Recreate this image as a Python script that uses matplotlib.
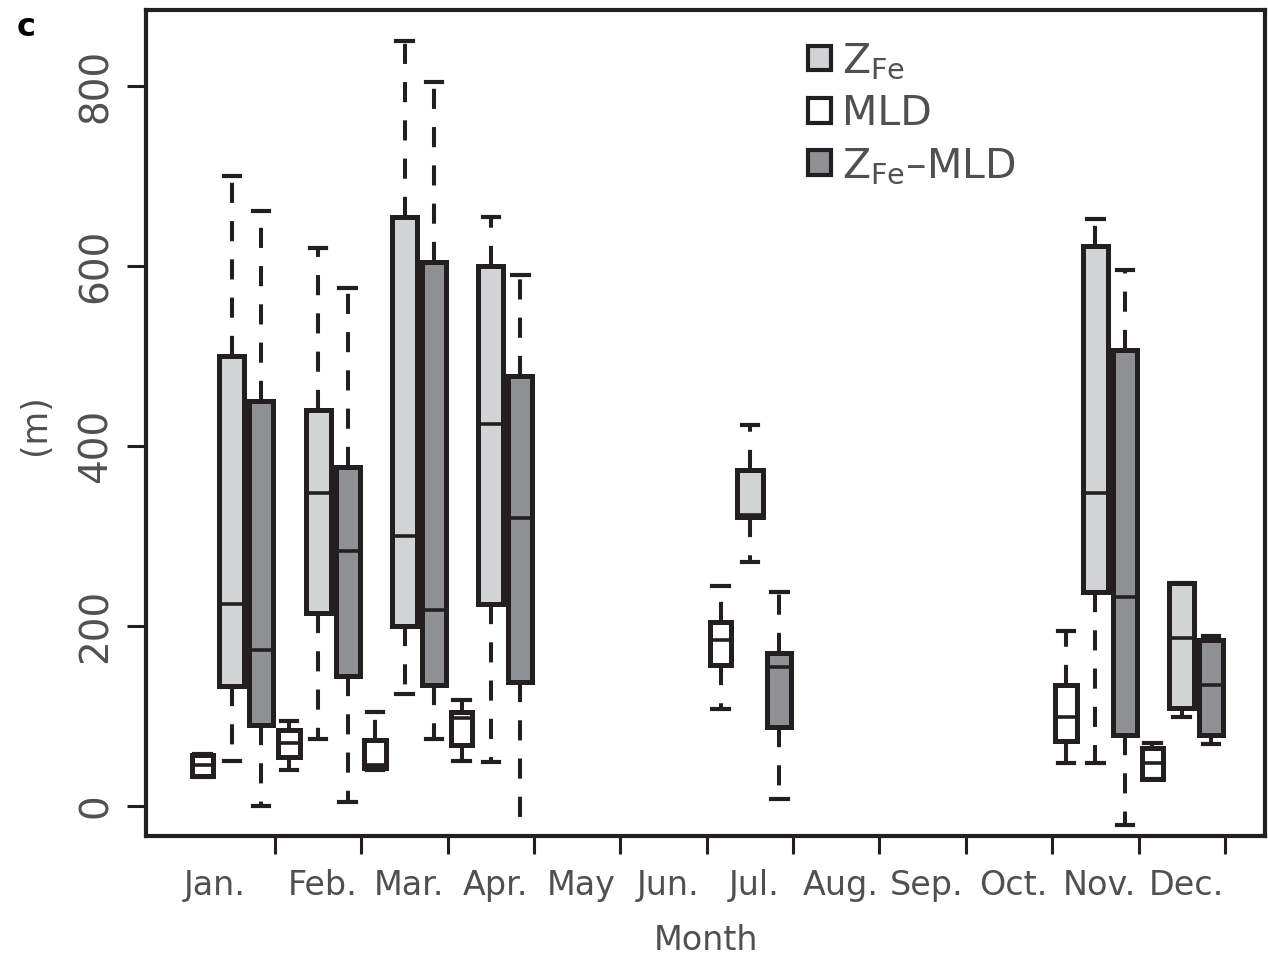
import matplotlib
matplotlib.use("Agg")
import matplotlib.pyplot as plt
import matplotlib.patches as mpatches

_EDGE = "#231F20"
_TEXT = "#505050"
_LIGHT = "#D1D3D4"
_DARK = "#8F9094"

months = ["Jan.", "Feb.", "Mar.", "Apr.", "May", "Jun.", "Jul.",
          "Aug.", "Sep.", "Oct.", "Nov.", "Dec."]
data_months = [0, 1, 2, 3, 6, 10, 11]

# rows: (low whisker, q1, median, q3, high whisker), one per month in data_months
zfe = [
    (50, 133, 225, 500, 700),
    (75, 214, 348, 440, 620),
    (124, 200, 300, 655, 850),
    (49, 224, 425, 600, 655),
    (271, 321, 323, 373, 423),
    (48, 238, 348, 622, 652),
    (99, 109, 187, 248, 248),
]
mld = [
    (32, 33, 46, 57, 58),
    (40, 55, 70, 85, 95),
    (40, 42, 46, 73, 105),
    (50, 68, 98, 105, 118),
    (108, 157, 184, 205, 244),
    (48, 72, 99, 134, 194),
    (30, 30, 48, 65, 70),
]
zfe_minus_mld = [
    (0, 90, 173, 450, 661),
    (5, 145, 283, 377, 576),
    (74, 134, 218, 605, 805),
    (-60, 138, 320, 478, 590),
    (8, 88, 154, 170, 238),
    (-21, 79, 232, 507, 596),
    (69, 79, 134, 184, 189),
]


def _stats(rows):
    return [dict(whislo=r[0], q1=r[1], med=r[2], q3=r[3], whishi=r[4], fliers=[])
            for r in rows]


def _draw(ax, rows, offset, width, color):
    ax.bxp(_stats(rows), positions=[m + offset for m in data_months],
           widths=width, capwidths=0.19, patch_artist=True, showfliers=False,
           boxprops=dict(facecolor=color, edgecolor=_EDGE, linewidth=3.6),
           medianprops=dict(color=_EDGE, linewidth=2.6),
           whiskerprops=dict(color=_EDGE, linewidth=2.9, linestyle=(0, (5, 4.5))),
           capprops=dict(color=_EDGE, linewidth=3.0),
           manage_ticks=False)


fig = plt.figure(figsize=(12.68, 9.56), dpi=100)
ax = fig.add_axes([0.1155, 0.1255, 0.8818, 0.864])

_draw(ax, zfe, 0.0, 0.29, _LIGHT)
_draw(ax, zfe_minus_mld, 0.34, 0.28, _DARK)
_draw(ax, mld, -0.34, 0.25, "white")

ax.set_xlim(-0.99, 11.96)
ax.set_ylim(-33.3, 884.4)

for s in ax.spines.values():
    s.set_linewidth(3)
    s.set_color(_EDGE)

ax.set_yticks([0, 200, 400, 600, 800])
ax.tick_params(axis="y", length=14, width=2.2, color=_EDGE, pad=9,
               labelsize=28, labelcolor=_TEXT, labelrotation=90)
for lab in ax.get_yticklabels():
    lab.set_va("center")

label_pos = [-0.2] + [i + 0.05 for i in range(1, 12)]
ax.set_xticks(label_pos)
ax.set_xticklabels(months)
ax.set_xticks([i + 0.5 for i in range(12)], minor=True)
ax.tick_params(axis="x", which="major", length=0, pad=24, labelsize=24, labelcolor=_TEXT)
ax.tick_params(axis="x", which="minor", length=13, width=2.2, color=_EDGE)

ax.set_xlabel("Month", fontsize=24, color=_TEXT)
ax.xaxis.set_label_coords(0.5, -0.126)
ax.xaxis.label.set_va("center")
fig.text(35 / 1268, 1 - 425 / 956, "(m)", rotation=90, ha="center", va="center",
         fontsize=25, color=_TEXT)
fig.text(26 / 1268, 1 - 27 / 956, "c", ha="center", va="center",
         fontsize=23, fontweight="bold", color="black")

handles = [
    mpatches.Patch(facecolor=_LIGHT, edgecolor=_EDGE, linewidth=3),
    mpatches.Patch(facecolor="white", edgecolor=_EDGE, linewidth=3),
    mpatches.Patch(facecolor=_DARK, edgecolor=_EDGE, linewidth=3),
]
labels = [r"$\mathregular{Z_{Fe}}$", "MLD", r"$\mathregular{Z_{Fe}}$–MLD"]
ax.legend(handles, labels, loc="upper left", bbox_to_anchor=(0.592, 0.962),
          frameon=False, fontsize=29.5, handlelength=0.55, handleheight=0.55,
          handletextpad=0.27, labelspacing=0.3, borderpad=0, borderaxespad=0,
          labelcolor=_TEXT)

fig.savefig("out.png", dpi=100)
